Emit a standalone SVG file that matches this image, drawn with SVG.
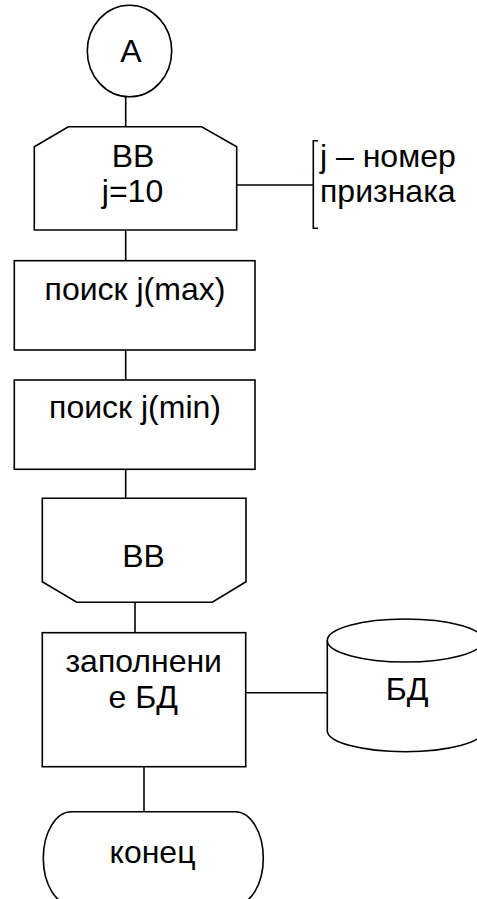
<svg xmlns="http://www.w3.org/2000/svg" width="477" height="899" viewBox="0 0 477 899">
<style>
.s{fill:#fff;stroke:#000;stroke-width:1.6}
.c{fill:none;stroke:#000;stroke-width:1.6}
text{font-family:"Liberation Sans",Arial,sans-serif;font-size:32px;fill:#000}
.m{text-anchor:middle}
</style>
<rect width="477" height="899" fill="#fff"/>
<g id="connectors">
<line class="c" x1="125.7" y1="96.7" x2="125.7" y2="126.7"/>
<line class="c" x1="125.7" y1="230" x2="125.7" y2="260.7"/>
<line class="c" x1="125.7" y1="350" x2="125.7" y2="380"/>
<line class="c" x1="125.7" y1="469.3" x2="125.7" y2="498.3"/>
<line class="c" x1="135" y1="602.3" x2="135" y2="632.7"/>
<line class="c" x1="144" y1="766.7" x2="144" y2="811.7"/>
<line class="c" x1="245.7" y1="692.7" x2="327.3" y2="692.7"/>
<line class="c" x1="236.7" y1="185" x2="313.3" y2="185"/>
</g>
<g id="start">
<ellipse class="s" cx="129.5" cy="51" rx="42.2" ry="45.8"/>
<text class="m" x="131" y="62">А</text>
</g>
<g id="input">
<polygon class="s" points="68.3,126.7 201.7,126.7 236.7,146.7 236.7,230 34.3,230 34.3,146.7"/>
<text class="m" x="133" y="167">ВВ</text>
<text class="m" x="132.5" y="202">j=10</text>
</g>
<g id="comment">
<path class="c" d="M318,140.7 H313.3 V228.3 H318"/>
<text x="320" y="166.7">j – номер</text>
<text x="320" y="201.7">признака</text>
</g>
<g id="findmax">
<rect class="s" x="14.3" y="260.7" width="240.7" height="89.3"/>
<text class="m" x="135" y="300">поиск j(max)</text>
</g>
<g id="findmin">
<rect class="s" x="14.3" y="380" width="240.7" height="89.3"/>
<text class="m" x="135" y="418">поиск j(min)</text>
</g>
<g id="output">
<polygon class="s" points="42.3,498.3 246,498.3 246,581.7 212.3,602.3 76.7,602.3 42.3,581.7"/>
<text class="m" x="143.5" y="567">ВВ</text>
</g>
<g id="filldb">
<rect class="s" x="42.3" y="632.7" width="203.4" height="134"/>
<text class="m" x="143.7" y="671.7">заполнени</text>
<text class="m" x="143.3" y="708">е БД</text>
</g>
<g id="db">
<path class="s" d="M327.3,640.5 V730.7 A78,21 0 0 0 483.3,730.7 V640.5"/>
<ellipse class="s" cx="405.3" cy="640.5" rx="78" ry="21.5"/>
<text class="m" x="407" y="700">БД</text>
</g>
<g id="end">
<rect class="s" x="43.3" y="811.7" width="220" height="93" rx="28" ry="46.5"/>
<text class="m" x="152.5" y="863.3">конец</text>
</g>
</svg>
